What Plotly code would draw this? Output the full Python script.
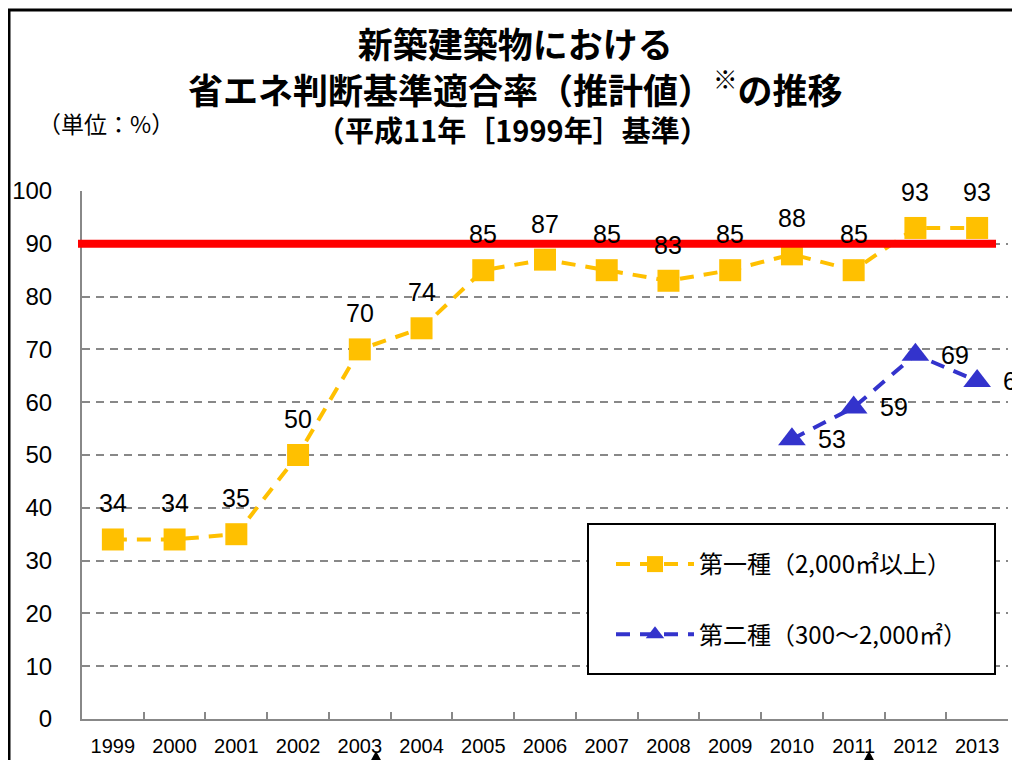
import plotly.graph_objects as go

years = ["1999", "2000", "2001", "2002", "2003", "2004", "2005", "2006",
         "2007", "2008", "2009", "2010", "2011", "2012", "2013"]
type1 = [34, 34, 35, 50, 70, 74, 85, 87, 85, 83, 85, 88, 85, 93, 93]
type2_years = ["2010", "2011", "2012", "2013"]
type2 = [53, 59, 69, 64]
name1 = "第一種（2,000㎡以上）"
name2 = "第二種（300～2,000㎡）"
target = 90

# The page body adds an 8px offset; work in screen pixels and subtract it.
OFF = 8
W, H = 1020 - OFF, 760 - OFF
L, R, T, B = 82 - OFF, 1008 - OFF, 191 - OFF, 719 - OFF
def px(x):
    return (x - OFF - L) / (R - L)
def py(y):
    return (B - (y - OFF)) / (B - T)

GOLD = "#FFC000"
BLUE = "#3333CC"
NUMF = "Liberation Sans, Arial, sans-serif"
JPF = "Noto Sans CJK JP, sans-serif"

fig = go.Figure()
fig.add_trace(go.Scatter(
    x=years, y=type1, name=name1, mode="lines+markers",
    line=dict(color=GOLD, width=4, dash="14px,10px"),
    marker=dict(symbol="square", size=22, color=GOLD),
    legendgroup="a",
))
fig.add_trace(go.Scatter(
    x=type2_years, y=type2, name=name2, mode="lines+markers",
    line=dict(color=BLUE, width=4, dash="14px,10px"),
    marker=dict(symbol="triangle-up", size=24, color=BLUE),
    legendgroup="b",
))

annotations = []
for x, v in zip(years, type1):
    annotations.append(dict(x=years.index(x), y=v, text=str(v), showarrow=False, yshift=36,
                            xanchor="center", yanchor="middle",
                            font=dict(family=NUMF, size=25, color="black")))
for x, v in zip(type2_years, type2):
    annotations.append(dict(x=years.index(x), y=v, text=str(v), showarrow=False, xshift=40,
                            xanchor="center", yanchor="middle",
                            font=dict(family=NUMF, size=25, color="black")))

# titles
def ptext(x, y, text, size):
    return dict(xref="paper", yref="paper", x=px(x), y=py(y), text=text, showarrow=False,
                xanchor="center", yanchor="middle",
                font=dict(family=JPF, size=size, color="black"))

annotations += [
    ptext(515, 65, "<b>新築建築物における</b><br>"
                   "<b>省エネ判断基準適合率（推計値）<sup>※</sup>の推移</b>", 35),
    ptext(512, 129, "<b>（平成11年［1999年］基準）</b>", 29),
    ptext(106, 123, "（単位：%）", 23),
]

shapes = [
    # red target line
    dict(type="line", xref="paper", yref="y", x0=px(78), x1=px(996), y0=target, y1=target,
         line=dict(color="#FF0000", width=8), layer="above"),
    # legend box
    dict(type="rect", xref="paper", yref="paper", x0=px(588), x1=px(995), y0=py(674), y1=py(524),
         line=dict(color="black", width=2), fillcolor="white", layer="above"),
    # outer frame
    dict(type="rect", xref="paper", yref="paper", x0=px(9), x1=px(1040), y0=py(780), y1=py(10),
         line=dict(color="black", width=3), fillcolor="rgba(0,0,0,0)", layer="above"),
]
for cx in (376, 869):
    shapes.append(dict(type="path", xref="paper", yref="paper",
                       path=f"M {px(cx-6)} {py(762)} L {px(cx)} {py(751)} L {px(cx+6)} {py(762)} Z",
                       fillcolor="black", line=dict(color="black", width=0), layer="above"))

fig.update_layout(
    width=W, height=H,
    margin=dict(l=L, r=W - R, t=T, b=H - B, autoexpand=False),
    paper_bgcolor="white", plot_bgcolor="white",
    showlegend=True,
    legend=dict(x=px(611), y=py(542), xanchor="left", yanchor="top",
                bgcolor="rgba(0,0,0,0)", borderwidth=0,
                font=dict(family=JPF, size=24, color="black"),
                itemwidth=78, tracegroupgap=36),
    annotations=annotations,
    shapes=shapes,
)
fig.update_xaxes(
    type="category", range=[-0.5, 14.5], automargin=False,
    showline=True, linecolor="#888888", linewidth=2,
    ticks="inside", ticklen=7, tickcolor="#888888", tickwidth=2, tickson="boundaries",
    showgrid=False, tickfont=dict(family=NUMF, size=20, color="black"),
    ticklabelstandoff=8,
)
fig.update_yaxes(
    range=[0, 100], dtick=10, tick0=0, automargin=False,
    showline=True, linecolor="#888888", linewidth=2,
    showgrid=True, gridcolor="#888888", gridwidth=1.5, griddash="8px,6px",
    zeroline=False, ticks="",
    tickfont=dict(family=NUMF, size=24, color="black"),
    ticklabelstandoff=23,
)

fig.write_html("out.html")
